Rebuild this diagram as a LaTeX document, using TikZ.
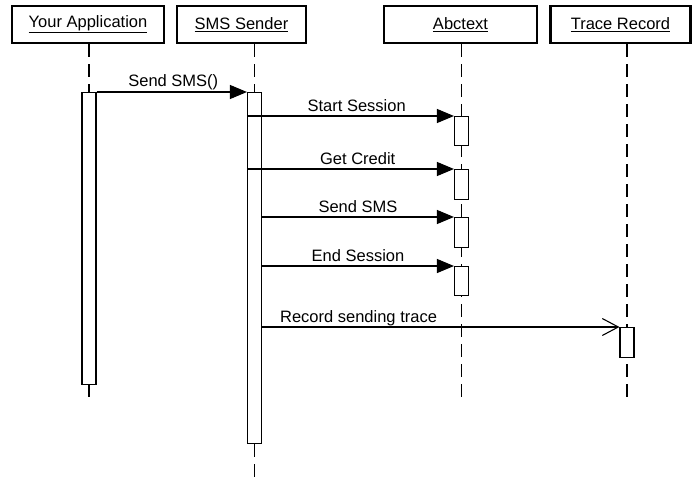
\documentclass[tikz,border=0pt]{standalone}
\usepackage{fontspec}
\setmainfont{Liberation Sans}
\usetikzlibrary{arrows.meta}
\begin{document}
\begin{tikzpicture}[x=1pt,y=-1pt,
  txt/.style={font=\fontsize{16.5}{19}\selectfont},
  hdr/.style={draw, line width=2.8pt, minimum height=37pt, inner sep=0pt, txt},
  act/.style={draw, fill=white, line width=1.1pt, minimum width=14pt, inner sep=0pt, anchor=north},
  life/.style={line width=1.1pt, dash pattern=on 13pt off 7pt},
  msg/.style={line width=1.1pt, -{Triangle[length=17pt,width=14pt]}},
  amsg/.style={line width=1.1pt, -{Straight Barb[length=16pt,width=17pt]}},
  lbl/.style={txt, anchor=base, yshift=5pt, inner sep=0pt}
]
\useasboundingbox (0,0) rectangle (692,484);
\fill[white] (0,0) rectangle (692,484);
% headers
\node[hdr, minimum width=152pt] (hA) at (88,24.5) {\underline{Your Application}};
\node[hdr, minimum width=129pt] (hS) at (241.5,24.5) {\underline{SMS Sender}};
\node[hdr, minimum width=153pt] (hB) at (460.5,24.5) {\underline{Abctext}};
\node[hdr, minimum width=140pt] (hT) at (620.5,24.5) {\underline{Trace Record}};
% lifeline ends
\coordinate (eA) at (89,404);
\coordinate (eS) at (254.5,484);
\coordinate (eB) at (461.5,404);
\coordinate (eT) at (627,404);
\draw[life] (eA |- hA.south) -- (eA);
\draw[life] (eS |- hS.south) -- (eS);
\draw[life] (eB |- hB.south) -- (eB);
\draw[life] (eT |- hT.south) -- (eT);
% activations
\node[act, minimum height=292pt] (a1) at (89,92) {};
\node[act, minimum height=351pt] (s1) at (254.5,92) {};
\node[act, minimum height=29pt] (b1) at (461.5,116) {};
\node[act, minimum height=30pt] (b2) at (461.5,169) {};
\node[act, minimum height=30pt] (b3) at (461.5,217) {};
\node[act, minimum height=29pt] (b4) at (461.5,266) {};
\node[act, minimum height=30pt] (t1) at (627,327) {};
% messages
\draw[msg] (a1.north east) -- node[lbl, pos=0.51] (m0) {Send SMS()} (s1.north west);
\draw[msg] (s1.west |- b1.north) -- node[lbl, pos=0.53] (m1) {Start Session} (b1.north west);
\draw[msg] (s1.west |- b2.north) -- node[lbl, pos=0.535] (m2) {Get Credit} (b2.north west);
\draw[msg] (s1.east |- b3.north) -- node[lbl, pos=0.5] (m3) {Send SMS} (b3.north west);
\draw[msg] (s1.east |- b4.north) -- node[lbl, pos=0.5] (m4) {End Session} (b4.north west);
\draw[amsg] (s1.east |- t1.north) -- node[lbl, pos=0.27] (m5) {Record sending trace} (t1.north west);
\end{tikzpicture}
\end{document}
